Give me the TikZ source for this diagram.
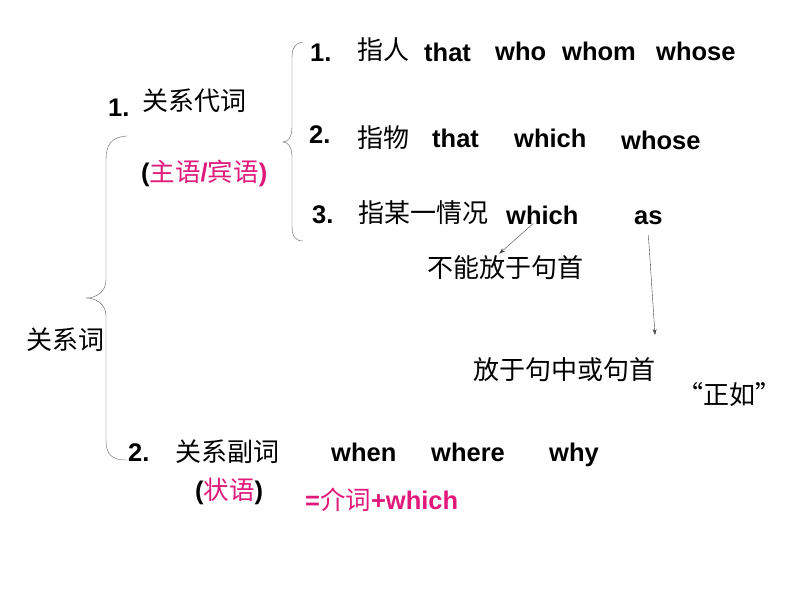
\documentclass[tikz,border=0pt]{standalone}
\usepackage{fontspec}
\setmainfont{Liberation Sans}
\newfontfamily\cjk{Noto Sans CJK SC}
\usepackage{xcolor}
\usepackage{tikz}
\usetikzlibrary{arrows,arrows.meta,positioning,calc}
\definecolor{accent}{HTML}{E0197A}
\definecolor{bracegray}{HTML}{606060}
\definecolor{arrowgray}{HTML}{404040}
\newcommand{\zhpart}[1]{{\cjk\mdseries #1}}

\begin{document}
\begin{tikzpicture}[
    x=1pt, y=-1pt,
    en/.style={font=\bfseries\fontsize{25.5}{30}\selectfont, inner sep=0pt, anchor=west, text height=18.4pt, text depth=0pt},
    zh/.style={font=\cjk\fontsize{26}{30}\selectfont, inner sep=0pt, anchor=west},
    hot/.style={text=accent},
    brace/.style={draw=bracegray, thin},
    arrow/.style={-{Stealth[length=6pt,width=4pt]}, thin, arrowgray}
]
    \useasboundingbox (0,0) rectangle (794,596);

    % left column
    \node[zh] (rel) at (26,340) {关系词};
    \node[en] (n1) at (108,107) {1.};
    \node[zh] (pron) at (142,101) {关系代词};
    \node[en] (subj) at (141,172) {(\textcolor{accent}{\zhpart{主语}/\zhpart{宾语})}};
    \node[en] (n2) at (128,452) {2.};
    \node[zh] (adv) at (175,452) {关系副词};
    \node[en] (advl) at (195,490) {(\textcolor{accent}{\zhpart{状语}})};

    % pronoun rows
    \node[en] (a1) at (310,52) {1.};
    \node[zh] (person) at (357,50) {指人};
    \node[en] (that1) at (424,52) {that};
    \node[en] (who) at (495,51) {who};
    \node[en] (whom) at (562,51) {whom};
    \node[en] (whose1) at (656,51) {whose};

    \node[en] (a2) at (309,134) {2.};
    \node[zh] (thing) at (357,138) {指物};
    \node[en] (that2) at (432,138) {that};
    \node[en] (which2) at (514,138) {which};
    \node[en] (whose2) at (621,140) {whose};

    \node[en] (a3) at (312,214) {3.};
    \node[zh] (situ) at (358,213) {指某一情况};
    \node[en] (which3) at (506,215) {which};
    \node[en] (as) at (634,215) {as};

    \node[zh] (nofront) at (427,268) {不能放于句首};
    \node[zh] (midfront) at (473,370) {放于句中或句首};
    \node[zh] (zhengru) at (677,395) {“正如”};

    % adverb row
    \node[en] (when) at (331,452) {when};
    \node[en] (where) at (431,452) {where};
    \node[en] (why) at (549,452) {why};
    \node[en, hot] (eqv) at (305,500) {=\zhpart{介词}+which};

    % braces
    \draw[brace] (127,136) .. controls (111,137) and (106,145) .. (106,160) -- (106,280)
        .. controls (106,292) and (96,298) .. (86,298)
        .. controls (96,298) and (106,304) .. (106,316) -- (106,440)
        .. controls (106,455) and (112,460) .. (127,460);
    \draw[brace] (303,42) .. controls (295,43) and (292,48) .. (292,58) -- (292,127)
        .. controls (292,137) and (288,142) .. (283,142)
        .. controls (288,142) and (292,147) .. (292,157) -- (292,226)
        .. controls (292,236) and (295,241) .. (303,241);

    % notes
    \coordinate (asend) at (655,335);
    \draw[arrow] ([xshift=-9pt,yshift=1pt]which3.south) -- ([xshift=-6pt,yshift=2pt]nofront.north);
    \draw[arrow] ([yshift=-11pt]as.south) -- (asend);
\end{tikzpicture}
\end{document}
